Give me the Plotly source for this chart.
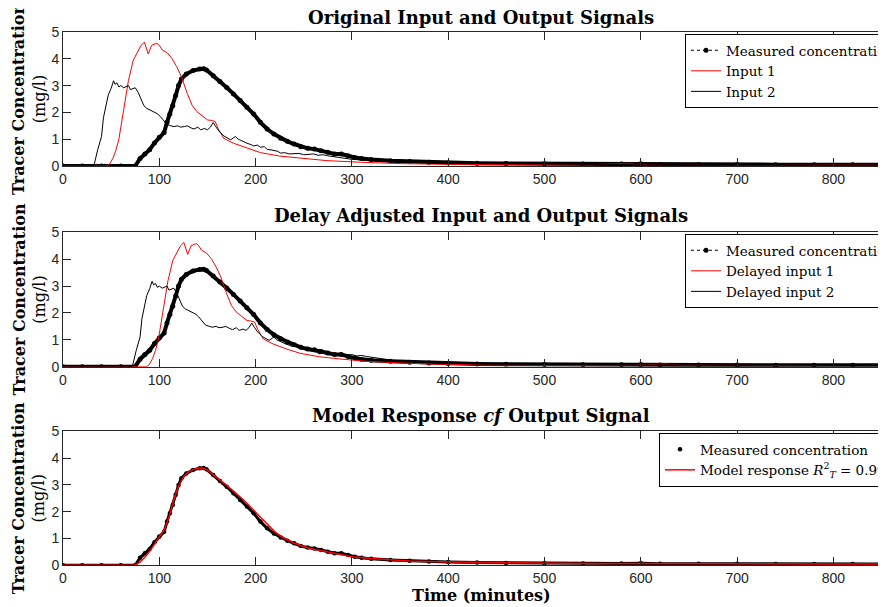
import plotly.graph_objects as go

# ---------------- data ----------------
time_measured = [0, 20, 40, 60, 75, 80, 85, 90, 95, 100, 105, 108, 111, 114, 117, 120,
                 123, 128, 135, 142, 146, 149, 156, 163, 170, 177, 184, 191, 198, 205,
                 212, 219, 226, 233, 240, 247, 254, 261, 268, 275, 282, 289, 296, 303,
                 310, 320, 340, 360, 380, 400, 430, 460, 500, 540, 580, 600, 620, 660,
                 700, 740, 780, 820, 855]
conc_measured = [0, 0, 0, 0, 0, 0.28, 0.45, 0.61, 0.86, 1.07, 1.25, 1.63, 1.94, 2.25, 2.63, 3.0,
                 3.25, 3.43, 3.56, 3.62, 3.63, 3.58, 3.37, 3.15, 2.93, 2.69, 2.44, 2.19, 1.94, 1.63,
                 1.38, 1.19, 1.04, 0.92, 0.82, 0.72, 0.66, 0.63, 0.57, 0.51, 0.45, 0.45, 0.38, 0.32,
                 0.28, 0.24, 0.2, 0.17, 0.14, 0.12, 0.1, 0.09, 0.08, 0.07, 0.07, 0.08, 0.06, 0.06,
                 0.06, 0.05, 0.05, 0.05, 0.05]

time_input_1 = [0, 45, 48, 52, 55, 58, 63, 68, 73, 78, 81, 84.5, 88.5, 92, 97.5, 100, 103,
                108, 113, 118, 123, 129, 134, 139, 146, 150, 154, 158, 161, 167, 177, 191,
                205, 225, 246, 274, 309, 350, 400, 450, 500, 550, 585, 600, 650, 700, 750,
                800, 855]
conc_input_1 = [0, 0, 0.05, 0.3, 0.6, 1.0, 2.1, 3.2, 3.95, 4.33, 4.5, 4.62, 4.18, 4.5, 4.58, 4.5, 4.33,
                4.23, 4.02, 3.71, 3.33, 2.71, 2.27, 2.03, 1.81, 1.72, 1.7, 1.66, 1.4, 1.03, 0.85, 0.66,
                0.5, 0.37, 0.29, 0.2, 0.14, 0.09, 0.06, 0.05, 0.05, 0.05, 0.1, 0.06, 0.05, 0.05, 0.04,
                0.04, 0.04]
time_delayed_1 = [0, 86, 89, 93, 96, 99, 104, 109, 114, 119, 122, 125.5, 129.5, 133, 138.5, 141, 144,
                  149, 154, 159, 164, 170, 175, 180, 187, 191, 195, 199, 202, 208, 218, 232,
                  246, 266, 287, 315, 350, 391, 441, 491, 541, 591, 626, 641, 691, 741, 791,
                  841, 896]

time_input_2 = [0, 32, 36, 40, 42, 45, 47, 50, 52.5, 54, 56, 58, 60, 63, 66, 68, 70, 73, 75, 78,
                81, 84, 87, 90, 94, 98, 101, 105, 108, 112, 115, 119, 122, 126, 129, 133, 136,
                140, 143, 147, 150, 153, 156, 159, 162, 167, 170, 174, 177, 179, 182, 186, 191,
                195, 198, 202, 205, 209, 212, 216, 219, 223, 226, 230, 235, 240, 245, 250, 255,
                260, 265, 270, 275, 280, 290, 300, 320, 350, 400, 450, 500, 550, 600, 650, 700,
                750, 800, 855]
conc_input_2 = [0, 0, 0.6, 1.1, 1.8, 2.3, 2.65, 2.9, 3.18, 3.05, 3.1, 2.95, 3.0, 2.92, 2.98, 3.0, 2.85,
                2.9, 2.92, 2.75, 2.5, 2.25, 2.15, 2.1, 2.03, 1.95, 1.85, 1.7, 1.55, 1.5, 1.47, 1.5,
                1.45, 1.47, 1.5, 1.42, 1.38, 1.45, 1.35, 1.4, 1.35, 1.45, 1.62, 1.45, 1.3, 1.12, 1.05,
                0.98, 1.05, 1.1, 1.0, 0.92, 0.85, 0.8, 0.75, 0.78, 0.7, 0.72, 0.62, 0.6, 0.57, 0.55,
                0.48, 0.5, 0.45, 0.45, 0.47, 0.42, 0.44, 0.45, 0.4, 0.42, 0.38, 0.35, 0.3, 0.25, 0.2,
                0.14, 0.1, 0.08, 0.07, 0.06, 0.07, 0.05, 0.06, 0.04, 0.04, 0.04]
time_delayed_2 = [0, 72, 76, 80, 82, 85, 87, 90, 92.5, 94, 96, 98, 100, 103, 106, 108, 110, 113, 115, 118,
                  121, 124, 127, 130, 134, 138, 141, 145, 148, 152, 155, 159, 162, 166, 169, 173, 176,
                  180, 183, 187, 190, 193, 196, 199, 202, 207, 210, 214, 217, 219, 222, 226, 231,
                  235, 238, 242, 245, 249, 252, 256, 259, 263, 266, 270, 275, 280, 285, 290, 295,
                  300, 305, 310, 315, 320, 330, 340, 360, 390, 440, 490, 540, 590, 640, 690, 740,
                  790, 840, 895]

time_model = [0, 74, 80, 85, 90, 95, 100, 105, 110, 115, 120, 125, 130, 135, 140, 145, 150, 160,
              170, 180, 190, 200, 210, 220, 230, 240, 250, 260, 270, 280, 290, 300, 320, 340,
              360, 380, 400, 450, 500, 550, 600, 650, 700, 750, 800, 855]
conc_model = [0, 0, 0.12, 0.3, 0.52, 0.78, 1.08, 1.32, 1.78, 2.45, 2.95, 3.3, 3.48, 3.57, 3.62, 3.63,
              3.55, 3.28, 2.98, 2.68, 2.35, 1.98, 1.6, 1.25, 1.0, 0.83, 0.7, 0.6, 0.53, 0.46, 0.38,
              0.32, 0.25, 0.2, 0.16, 0.14, 0.12, 0.1, 0.08, 0.07, 0.07, 0.06, 0.06, 0.05, 0.05, 0.05]

x_ticks = [0, 100, 200, 300, 400, 500, 600, 700, 800]
y_ticks = [0, 1, 2, 3, 4, 5]
panel_titles = ["<b>Original Input and Output Signals</b>",
                "<b>Delay Adjusted Input and Output Signals</b>",
                "<b>Model Response <i>cf</i> Output Signal</b>"]
y_title = "<b>Tracer Concentration</b><br>(mg/l)"
x_title = "<b>Time (minutes)</b>"

# ---------------- layout constants (page pixels, body margin compensated) ----------------
OFF = 8                      # default page margin around the plot div
W, H = 886 - OFF, 607 - OFF
L = 63 - OFF
PLOT_W = W - L
X_MAX = 854.6
panels_px = [(32, 166), (232.3, 366.7), (431.3, 565.3)]

def py(p):
    return 1 - (p - OFF) / H

def px(p):
    return (p - OFF - L) / PLOT_W

AX = "#262626"
SERIF_B = "DejaVu Serif"
SERIF = "DejaVu Serif"
SANS = "Liberation Sans"

fig = go.Figure()

def add_measured(i, lg, dots_only=False):
    xa = "x" if i == 0 else f"x{i+1}"
    ya = "y" if i == 0 else f"y{i+1}"
    fig.add_trace(go.Scatter(x=time_measured, y=conc_measured, mode="lines",
                             line=dict(color="black", width=4 if not dots_only else 3),
                             showlegend=False, hoverinfo="skip", xaxis=xa, yaxis=ya))
    if dots_only:
        fig.add_trace(go.Scatter(x=time_measured, y=conc_measured, mode="markers",
                                 marker=dict(color="black", size=4.5),
                                 name="Measured concentration", legend=lg, xaxis=xa, yaxis=ya))
    else:
        fig.add_trace(go.Scatter(x=time_measured, y=conc_measured, mode="lines+markers",
                                 line=dict(color="black", width=1, dash="dot"),
                                 marker=dict(color="black", size=5),
                                 name="Measured concentration", legend=lg, xaxis=xa, yaxis=ya))

# panel 1
add_measured(0, "legend")
fig.add_trace(go.Scatter(x=time_input_1, y=conc_input_1, mode="lines",
                         line=dict(color="#ff0000", width=1), name="Input 1",
                         legend="legend", xaxis="x", yaxis="y"))
fig.add_trace(go.Scatter(x=time_input_2, y=conc_input_2, mode="lines",
                         line=dict(color="black", width=1), name="Input 2",
                         legend="legend", xaxis="x", yaxis="y"))
# panel 2
add_measured(1, "legend2")
fig.add_trace(go.Scatter(x=time_delayed_1, y=conc_input_1, mode="lines",
                         line=dict(color="#ff0000", width=1), name="Delayed input 1",
                         legend="legend2", xaxis="x2", yaxis="y2"))
fig.add_trace(go.Scatter(x=time_delayed_2, y=conc_input_2, mode="lines",
                         line=dict(color="black", width=1), name="Delayed input 2",
                         legend="legend2", xaxis="x2", yaxis="y2"))
# panel 3
add_measured(2, "legend3", dots_only=True)
fig.add_trace(go.Scatter(x=time_model, y=conc_model, mode="lines",
                         line=dict(color="#ff0000", width=1.5),
                         name="Model response <i>R</i><sup>2</sup><sub><i>T</i></sub> = 0.998",
                         legend="legend3", xaxis="x3", yaxis="y3"))

layout = dict(width=W, height=H, margin=dict(l=L, r=0, t=0, b=0, autoexpand=False),
              paper_bgcolor="white", plot_bgcolor="white", showlegend=True)

annotations = []
for i, (top, bot) in enumerate(panels_px):
    sfx = "" if i == 0 else str(i + 1)
    layout["xaxis" + sfx] = dict(domain=[0, 1], range=[0, X_MAX], anchor="y" + sfx,
                                 tickvals=x_ticks, ticks="inside", ticklen=8, tickcolor=AX,
                                 showline=True, linecolor=AX, linewidth=1, mirror="ticks",
                                 showgrid=False, zeroline=False, automargin=False,
                                 tickfont=dict(family=SANS, size=14, color=AX))
    layout["yaxis" + sfx] = dict(domain=[py(bot), py(top)], range=[0, 5], anchor="x" + sfx,
                                 tickvals=y_ticks, ticks="inside", ticklen=8, tickcolor=AX,
                                 showline=True, linecolor=AX, linewidth=1, mirror=False,
                                 showgrid=False, zeroline=False, automargin=False,
                                 tickfont=dict(family=SANS, size=14, color=AX))
    title_y = [17, 216, 415.5][i]
    annotations.append(dict(text=panel_titles[i], xref="paper", yref="paper",
                            x=px(481), y=py(title_y), xanchor="center", yanchor="middle",
                            showarrow=False, font=dict(family=SERIF_B, size=18, color="black")))
    annotations.append(dict(text=y_title, xref="paper", yref="paper", textangle=-90,
                            x=px(29), y=py((top + bot) / 2), xanchor="center", yanchor="middle",
                            showarrow=False, font=dict(family=SERIF_B, size=16, color="black")))

annotations.append(dict(text=x_title, xref="paper", yref="paper", x=px(481), y=py(595),
                        xanchor="center", yanchor="middle", showarrow=False,
                        font=dict(family=SERIF_B, size=16, color="black")))
layout["annotations"] = annotations

legend_common = dict(xanchor="left", yanchor="top", bgcolor="white", bordercolor="black",
                     borderwidth=1, font=dict(family=SERIF, size=13.5, color="black"),
                     itemwidth=30, tracegroupgap=0)
layout["legend"] = dict(x=px(685), y=py(34), **legend_common)
layout["legend2"] = dict(x=px(685), y=py(234), **legend_common)
layout["legend3"] = dict(x=px(659), y=py(433), **legend_common)

fig.update_layout(**layout)
fig.write_html("out.html")
